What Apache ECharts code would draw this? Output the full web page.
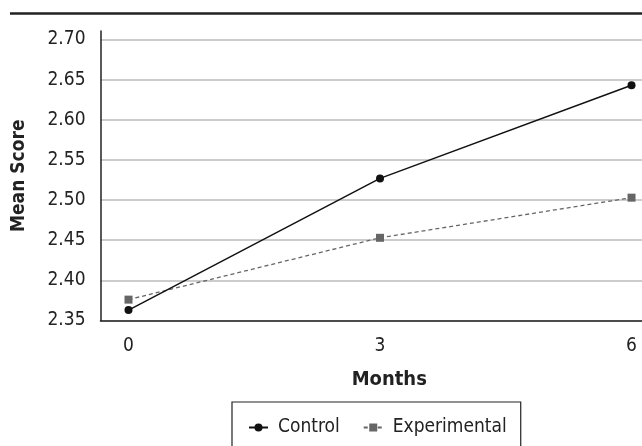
<!DOCTYPE html>
<html>
<head>
<meta charset="utf-8">
<script src="https://cdn.jsdelivr.net/npm/echarts@6/dist/echarts.min.js"></script>
<style>
html,body{margin:0;padding:0;background:#fff;}
#chart{width:642px;height:446px;}
</style>
</head>
<body>
<div id="chart"></div>
<script>
const months = [0, 3, 6];
const monthLabels = [0, 3, 6];
const control = [2.363, 2.527, 2.643];
const experimental = [2.376, 2.453, 2.503];
const seriesNames = ['Control', 'Experimental'];

const FONT = "'Liberation Sans Narrow', 'Arial Narrow', 'DejaVu Sans Condensed', sans-serif";
const chart = echarts.init(document.getElementById('chart'), null, {renderer: 'canvas'});

chart.setOption({
  animation: false,
  backgroundColor: '#ffffff',
  textStyle: {fontFamily: FONT},
  graphic: [{
    type: 'line',
    shape: {x1: 10, y1: 13.5, x2: 642, y2: 13.5},
    style: {stroke: '#222', lineWidth: 2.6}
  }],
  grid: {left: 100.5, right: 0, top: 31, bottom: 125.5, containLabel: false},
  legend: {
    left: 232, top: 402,
    data: seriesNames,
    orient: 'horizontal',
    borderColor: '#222', borderWidth: 1.2,
    padding: [16, 14, 24, 16],
    itemGap: 23, itemWidth: 19, itemHeight: 10,
    textStyle: {fontFamily: FONT, fontSize: 19, color: '#222', padding: [0, 0, 0, 5]}
  },
  xAxis: {
    type: 'value',
    min: -0.334, max: 6.125,
    name: 'Months', nameLocation: 'middle', nameGap: 49,
    nameTextStyle: {fontFamily: FONT, fontSize: 20, fontWeight: 'bold', color: '#222', padding: [0, 0, 0, 36]},
    axisLine: {show: true, onZero: false, lineStyle: {color: '#222', width: 1.5}},
    axisTick: {show: false},
    splitLine: {show: false},
    axisLabel: {customValues: monthLabels, margin: 16, fontFamily: FONT, fontSize: 19, color: '#222',
      formatter: v => String(v)}
  },
  yAxis: {
    type: 'value',
    min: 2.35, max: 2.7106, interval: 0.05,
    name: 'Mean Score', nameLocation: 'middle', nameGap: 72, nameRotate: 90,
    nameTextStyle: {fontFamily: FONT, fontSize: 19, fontWeight: 'bold', color: '#222'},
    axisLine: {show: true, onZero: false, lineStyle: {color: '#222', width: 1.5}},
    axisTick: {show: false},
    splitLine: {show: true, showMaxLine: false, lineStyle: {color: '#bbbbbb', width: 1.5}},
    axisLabel: {margin: 15, fontFamily: FONT, fontSize: 19, color: '#222', showMaxLabel: false,
      formatter: v => v.toFixed(2)}
  },
  series: [
    {
      name: seriesNames[0], type: 'line',
      data: months.map((m, i) => [m, control[i]]),
      symbol: 'circle', symbolSize: 8,
      itemStyle: {color: '#111'},
      lineStyle: {color: '#111', width: 1.5},
      clip: false, z: 3
    },
    {
      name: seriesNames[1], type: 'line',
      data: months.map((m, i) => [m, experimental[i]]),
      symbol: 'rect', symbolSize: 8,
      itemStyle: {color: '#666'},
      lineStyle: {color: '#666', width: 1.3, type: [4, 3]},
      clip: false, z: 2
    }
  ]
});
</script>
</body>
</html>
